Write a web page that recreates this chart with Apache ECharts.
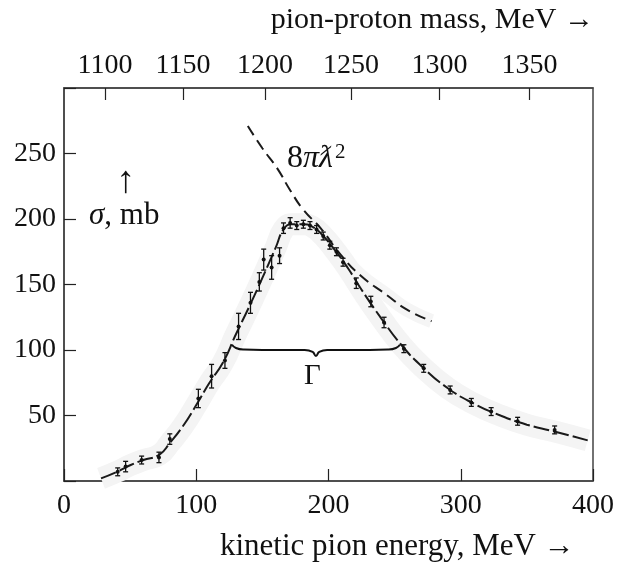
<!DOCTYPE html>
<html><head><meta charset="utf-8">
<script src="https://cdn.jsdelivr.net/npm/echarts@6/dist/echarts.min.js"></script>
<style>html,body{margin:0;padding:0;background:#fff}#c{width:625px;height:563px}</style>
</head><body><div id="c"></div>
<script>
// measured points: kinetic pion energy (MeV), cross-section (mb), error (mb)
const pointT = [40.6,46.6,58.7,71.8,80,101.6,111.6,121.7,132,141,147.7,151,157,163,166,171,176,181,186,191,196,201,206,211,221,232,242,257,272,292,308,323,343,371];
const pointS = [7,11,16,18,32,63,80,92,118,136,152,169,163,172,193,197,195,196,195,192,187,180,175,167,151,137,121,101,86,69.5,60,53,45.6,39];
const pointE = [3,4,3,4,4,7,9,6,10,8,7,8,9,6,4,4,3,3,3,3,3,3,3,3,4,4,4,3,3,3,3,3,3,3];
// fitted resonance curve
const fitT = [28,40,50,60,72,80,90,100,110,120,130,140,150,160,166,172,180,188,196,205,215,225,240,255,270,290,310,330,350,370,396];
const fitS = [2,7,12,16,20,29,42,58,75,90,112,133,155,178,192,196,196,194,187,176,162,146,124,104,88,71,59,50,43,38,31];
// unitarity limit 8*pi*lambdabar^2
const limT = [139,150,161,171,181,194,209,224,244,259,278];
const limS = [271,254,239,222,207,193,173,157,142,131,122];
// brace marking the width Gamma
const braceT = [127,130,136,150,182,188,190.5,193,199,231,245,251,254];
const braceS = [104,101.5,100.3,100,100,98.5,95.5,98.5,100,100,100.3,101.5,104];
// axis ticks
const bottomTicks = [0,100,200,300,400];
const leftTicks = [50,100,150,200,250];
const topTickMass = [1100,1150,1200,1250,1300,1350];
const topTickEnergy = [31,90,152,217,284,352];

const FONT = 'Liberation Serif';
const zip = (a,b) => a.map((v,i)=>[v,b[i]]);
const chart = echarts.init(document.getElementById('c'));
chart.setOption({
  animation:false,
  backgroundColor:'#fff',
  grid:{left:64,right:32,top:88,bottom:82,show:true,borderColor:'#444',borderWidth:1.5,backgroundColor:'transparent'},
  xAxis:[{
    type:'value',min:0,max:400,interval:100,position:'bottom',
    axisLine:{show:true,lineStyle:{color:'#444',width:1.5}},
    axisTick:{show:true,inside:true,length:12,lineStyle:{color:'#222',width:1.2}},
    axisLabel:{fontFamily:FONT,fontSize:28,color:'#111',margin:11,
      formatter:v=>bottomTicks.includes(v)?String(v):''},
    splitLine:{show:false}
  },{
    type:'value',min:0,max:400,position:'top',
    axisLine:{show:true,lineStyle:{color:'#444',width:1.5}},
    axisTick:{show:true,inside:true,length:12,customValues:topTickEnergy,lineStyle:{color:'#222',width:1.2}},
    axisLabel:{fontFamily:FONT,fontSize:28,color:'#111',margin:8,customValues:topTickEnergy,
      formatter:v=>{const i=topTickEnergy.indexOf(v);return i>=0?String(topTickMass[i]):'';}},
    splitLine:{show:false}
  }],
  yAxis:{
    type:'value',min:0,max:300,interval:50,
    axisLine:{show:true,lineStyle:{color:'#444',width:1.5}},
    axisTick:{show:true,inside:true,length:12,lineStyle:{color:'#222',width:1.2}},
    axisLabel:{fontFamily:FONT,fontSize:28,color:'#111',margin:8,
      formatter:v=>leftTicks.includes(v)?String(v):''},
    splitLine:{show:false}
  },
  series:[
    {type:'line',data:zip(fitT,fitS),smooth:true,showSymbol:false,silent:true,z:1,
      lineStyle:{color:'#f4f4f4',width:22,cap:'butt'}},
    {type:'line',data:zip(limT.slice(5),limS.slice(5)),smooth:true,showSymbol:false,silent:true,z:1,
      lineStyle:{color:'#f5f5f5',width:14,cap:'butt'}},
    {type:'line',data:zip(fitT,fitS),smooth:true,showSymbol:false,z:3,
      lineStyle:{color:'#1a1a1a',width:2,type:[16,4]}},
    {type:'line',data:zip(limT,limS),smooth:true,showSymbol:false,z:3,
      lineStyle:{color:'#1a1a1a',width:2,type:[11,6]}},
    {type:'line',data:zip(braceT,braceS),smooth:0.5,showSymbol:false,z:3,
      lineStyle:{color:'#111',width:2}},
    {type:'custom',z:4,data:pointT.map((t,i)=>[t,pointS[i],pointE[i]]),
      renderItem:(params,api)=>{
        const x=api.value(0),y=api.value(1),e=api.value(2);
        const top=api.coord([x,y+e]),bot=api.coord([x,y-e]),c=api.coord([x,y]);
        const w=2.5,st={stroke:'#111',lineWidth:1.3};
        return {type:'group',children:[
          {type:'line',shape:{x1:top[0],y1:top[1],x2:bot[0],y2:bot[1]},style:st},
          {type:'line',shape:{x1:top[0]-w,y1:top[1],x2:top[0]+w,y2:top[1]},style:st},
          {type:'line',shape:{x1:bot[0]-w,y1:bot[1],x2:bot[0]+w,y2:bot[1]},style:st},
          {type:'circle',shape:{cx:c[0],cy:c[1],r:2},style:{fill:'#111'}}
        ]};
      }}
  ],
  graphic:[
    {type:'text',right:31,top:5,style:{text:'pion-proton mass, MeV →',font:'30px "Liberation Serif"',fill:'#111'}},
    {type:'text',left:220,top:531,style:{text:'kinetic pion energy, MeV →',font:'31px "Liberation Serif"',fill:'#111'}},
    {type:'text',left:116,top:163,style:{text:'↑',font:'38px "Liberation Serif"',fill:'#111'}},
    {type:'text',left:89,top:200,style:{text:'{i|σ}{n|, mb}',rich:{i:{fontFamily:FONT,fontStyle:'italic',fontSize:31,fill:'#111'},n:{fontFamily:FONT,fontSize:31,fill:'#111'}}}},
    {type:'text',left:287,top:142,style:{text:'{n|8}{i|πƛ}{s|2}',rich:{n:{fontFamily:FONT,fontSize:32,fill:'#111'},i:{fontFamily:FONT,fontStyle:'italic',fontSize:32,fill:'#111'},s:{fontFamily:FONT,fontSize:21,fill:'#111',verticalAlign:'top',padding:[0,0,13,2]}}}},
    {type:'text',left:304,top:362,style:{text:'Γ',font:'29px "Liberation Serif"',fill:'#111'}}
  ]
});
</script></body></html>
